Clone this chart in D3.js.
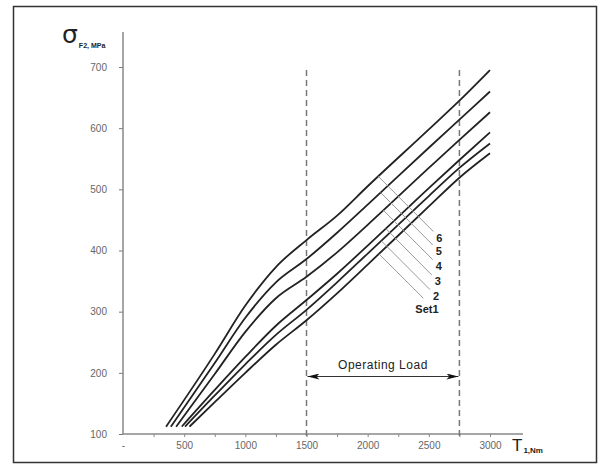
<!DOCTYPE html>
<html>
<head>
<meta charset="utf-8">
<script src="https://cdn.jsdelivr.net/npm/d3@7"></script>
<style>
  body { margin: 0; background: #fff; }
  svg { display: block; font-family: "Liberation Sans", Arial, sans-serif; }
</style>
</head>
<body>
<div class="content"></div>
<script>
// ---- data ----
// torque T1 (Nm) grid, each set starts at its own torque
var torque = [750, 1000, 1250, 1500, 1750, 2000, 2500, 2750, 3000];
var startT = [543, 507, 480, 434, 391, 352];   // Set1 .. Set6
var startStress = 112;

var set1 = [152, 200, 246, 286, 330, 377, 472, 519, 559];
var set2 = [163, 214, 262, 303, 348, 395, 489, 535, 575];
var set3 = [172, 226, 277, 319, 362, 408, 502, 548, 593];
var set4 = [198, 267, 322, 357, 397, 442, 535, 581, 626];
var set5 = [216, 290, 348, 386, 429, 475, 568, 614, 660];
var set6 = [231, 310, 373, 417, 457, 505, 598, 645, 695];
var sets = [set1, set2, set3, set4, set5, set6];
var setLabels = ['Set1', '2', '3', '4', '5', '6'];

// operating load band
var opLoad = [1500, 2750];
var opArrowStress = 194;

// leader lines: start torque on the curve, end point [T, stress]
var leaderStartT = [2092, 2111, 2148, 2128, 2106, 2087];
var leaderEnd = [[2455, 322], [2510, 336], [2524, 360], [2532, 385], [2532, 409], [2537, 431]];

var xTicks = d3.range(250, 3001, 250);
var xLabels = d3.range(0, 3001, 500);
var yTicks = d3.range(100, 701, 100);

// ---- svg ----
var svg = d3.select('.content').append('svg')
  .attr('width', 600)
  .attr('height', 464);

svg.append('rect')
  .attr('x', 13.5).attr('y', 6.5)
  .attr('width', 583).attr('height', 456)
  .style('fill', 'white')
  .style('stroke', '#333')
  .style('stroke-width', 1.5);

var x = d3.scaleLinear().domain([0, 3000]).range([123, 490]);
var y = d3.scaleLinear().domain([100, 700]).range([434, 67]);

// axes
var xAxis = svg.append('g')
  .attr('transform', 'translate(0,' + y(100) + ')')
  .call(d3.axisBottom(x).tickValues(xTicks).tickFormat('').tickSize(3).tickSizeOuter(0));
xAxis.select('.domain').remove();
xAxis.selectAll('line').style('stroke', '#888');

var xLab = svg.append('g')
  .attr('transform', 'translate(0,' + y(100) + ')')
  .call(d3.axisBottom(x).tickValues(xLabels).tickSize(0).tickPadding(8)
    .tickFormat(function(d) { return d === 0 ? '-' : d; }));
xLab.select('.domain').remove();
xLab.selectAll('text').style('font-size', '10px').style('fill', '#666');

svg.append('line')
  .attr('x1', x(0)).attr('x2', 523)
  .attr('y1', y(100)).attr('y2', y(100))
  .style('stroke', '#888').style('stroke-width', 1.5);

var yAxis = svg.append('g')
  .attr('transform', 'translate(' + x(0) + ',0)')
  .call(d3.axisLeft(y).tickValues(yTicks).tickSize(4).tickPadding(12).tickSizeOuter(0));
yAxis.select('.domain').remove();
yAxis.selectAll('line').style('stroke', '#777');
yAxis.selectAll('text').style('font-size', '10px').style('fill', '#666');

svg.append('line')
  .attr('x1', x(0)).attr('x2', x(0))
  .attr('y1', y(100)).attr('y2', 32)
  .style('stroke', '#888').style('stroke-width', 1.5);

// axis titles
var yt = svg.append('text').attr('x', 62).attr('y', 43);
yt.append('tspan').text('σ').style('font-family', 'DejaVu Sans').style('font-size', '25px').style('fill', '#222');
yt.append('tspan').attr('dy', 5).attr('dx', 1).text('F2, MPa')
  .style('font-size', '7px').style('font-weight', 'bold').style('fill', '#222');

var xt = svg.append('text').attr('x', 512).attr('y', 451);
xt.append('tspan').text('T').style('font-size', '17px').style('fill', '#222');
xt.append('tspan').attr('dy', 2).attr('dx', 1).text('1,Nm')
  .style('font-size', '8px').style('font-weight', 'bold').style('fill', '#222');

// operating load dashed lines
svg.selectAll('.op')
  .data(opLoad)
  .enter().append('line')
  .attr('class', 'op')
  .attr('x1', function(d) { return x(d); })
  .attr('x2', function(d) { return x(d); })
  .attr('y1', 70)
  .attr('y2', 438)
  .style('stroke', '#777')
  .style('stroke-width', 1.5)
  .style('stroke-dasharray', '6,4');

// double arrow
svg.append('defs').selectAll('marker')
  .data(['a0', 'a1'])
  .enter().append('marker')
  .attr('id', function(d) { return d; })
  .attr('viewBox', '0 -5 20 10')
  .attr('refX', 20).attr('refY', 0)
  .attr('markerWidth', 18).attr('markerHeight', 6)
  .attr('markerUnits', 'userSpaceOnUse')
  .attr('orient', 'auto-start-reverse')
  .append('path')
  .attr('d', 'M0,-5L20,0L0,5L5,0Z')
  .style('fill', '#111');

svg.append('line')
  .attr('x1', x(opLoad[0]) + 1).attr('x2', x(opLoad[1]) - 1)
  .attr('y1', y(opArrowStress)).attr('y2', y(opArrowStress))
  .style('stroke', '#333').style('stroke-width', 1)
  .attr('marker-start', 'url(#a0)')
  .attr('marker-end', 'url(#a1)');

svg.append('text')
  .attr('x', (x(opLoad[0]) + x(opLoad[1])) / 2)
  .attr('y', y(opArrowStress) - 8)
  .attr('text-anchor', 'middle')
  .style('font-size', '12px')
  .style('letter-spacing', '0.5px')
  .style('fill', '#222')
  .text('Operating Load');

// curves
var line = d3.line()
  .x(function(d) { return x(d[0]); })
  .y(function(d) { return y(d[1]); })
  .curve(d3.curveMonotoneX);

var curveData = sets.map(function(s, i) {
  return [[startT[i], startStress]].concat(torque.map(function(t, j) { return [t, s[j]]; }));
});

svg.selectAll('.curve')
  .data(curveData)
  .enter().append('path')
  .attr('class', 'curve')
  .attr('d', line)
  .style('fill', 'none')
  .style('stroke', '#222')
  .style('stroke-width', 1.8);

// leader lines + labels
curveData.forEach(function(c, i) {
  var f = d3.scaleLinear().domain(c.map(function(d) { return d[0]; })).range(c.map(function(d) { return d[1]; }));
  var t0 = leaderStartT[i];
  svg.append('line')
    .attr('x1', x(t0)).attr('y1', y(f(t0)))
    .attr('x2', x(leaderEnd[i][0])).attr('y2', y(leaderEnd[i][1]))
    .style('stroke', '#999')
    .style('stroke-width', 1);
  svg.append('text')
    .attr('x', i === 0 ? x(leaderEnd[i][0]) - 8 : x(leaderEnd[i][0]) + 3)
    .attr('y', y(leaderEnd[i][1]) + (i === 0 ? 15 : 10))
    .style('font-size', '11px')
    .style('font-weight', 'bold')
    .style('fill', '#222')
    .text(setLabels[i]);
});
</script>
</body>
</html>
